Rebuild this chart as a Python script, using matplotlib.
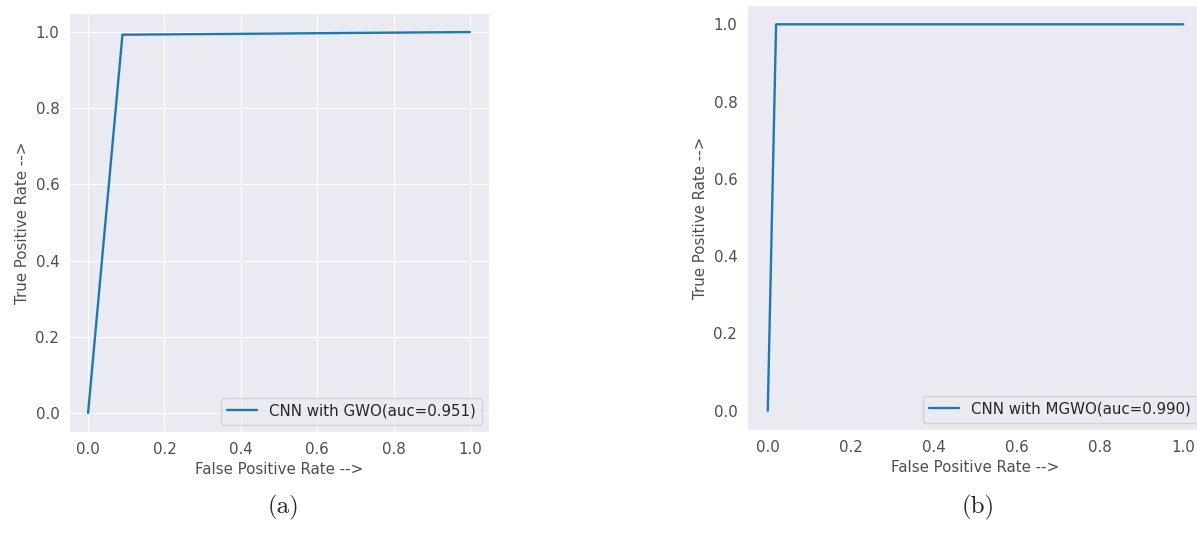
import matplotlib
matplotlib.use("Agg")
import matplotlib.pyplot as plt
import seaborn as sns

# ROC points
fpr_gwo = [0.0, 0.09, 1.0]
tpr_gwo = [0.0, 0.993, 1.0]
auc_gwo = 0.951

fpr_mgwo = [0.0, 0.02, 1.0]
tpr_mgwo = [0.0, 1.0, 1.0]
auc_mgwo = 0.990

ticks = [0.0, 0.2, 0.4, 0.6, 0.8, 1.0]

sns.set_style("darkgrid")
plt.rcParams['font.family'] = ['DejaVu Sans']

fig = plt.figure(figsize=(11.97, 5.48), dpi=100)

# (a) GWO, with grid
ax1 = fig.add_axes([69 / 1197, 1 - 432 / 548, 420 / 1197, 419 / 548])
ax1.plot(fpr_gwo, tpr_gwo, color="#1f77b4", lw=1.7,
         label="CNN with GWO(auc=%.3f)" % auc_gwo)
ax1.set_xlabel("False Positive Rate -->", fontsize=10.8, color=".3")
ax1.set_ylabel("True Positive Rate -->", fontsize=10.8, color=".3")
ax1.set_xticks(ticks)
ax1.set_yticks(ticks)
ax1.tick_params(labelsize=10.8, labelcolor=".3")
ax1.legend(loc="lower right", fontsize=10.8)

# (b) MGWO, no grid, right edge cropped in the original
ax2 = fig.add_axes([747 / 1197, 1 - 430 / 548, 457 / 1197, 425 / 548])
ax2.plot(fpr_mgwo, tpr_mgwo, color="#1f77b4", lw=1.7,
         label="CNN with MGWO(auc=%.3f)" % auc_mgwo)
ax2.grid(False)
ax2.set_xlabel("False Positive Rate -->", fontsize=10.8, color=".3")
ax2.set_ylabel("True Positive Rate -->", fontsize=10.8, color=".3")
ax2.set_xticks(ticks)
ax2.set_yticks(ticks)
ax2.tick_params(labelsize=10.8, labelcolor=".3")
ax2.legend(loc="lower right", fontsize=10.8)

fig.text(283 / 1197, 1 - 507 / 548, "(a)", family="cmr10", fontsize=18,
         ha="center", va="center")
fig.text(978 / 1197, 1 - 507 / 548, "(b)", family="cmr10", fontsize=18,
         ha="center", va="center")

fig.savefig("out.png", dpi=100)
